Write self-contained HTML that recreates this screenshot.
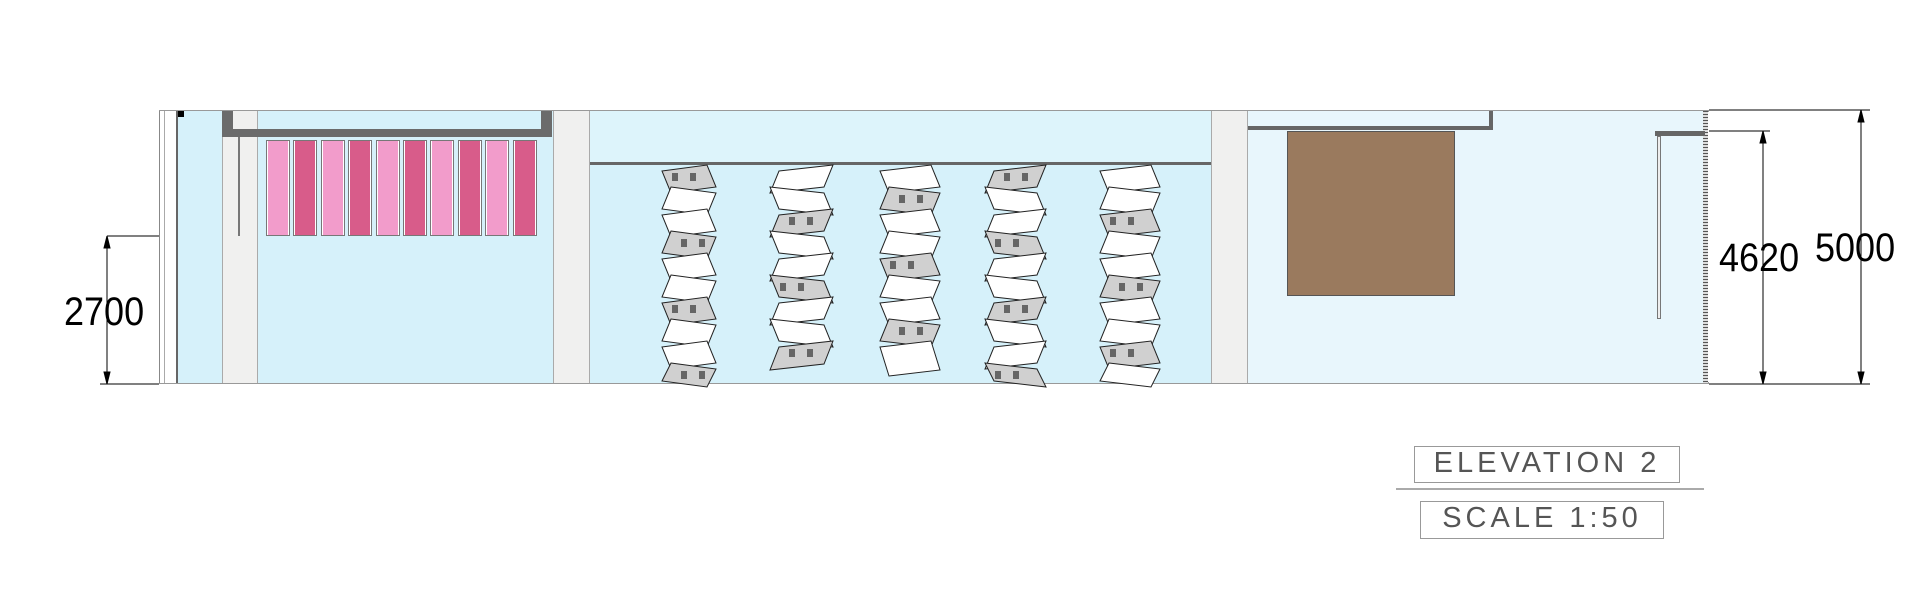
<!DOCTYPE html>
<html><head><meta charset="utf-8"><style>
html,body{margin:0;padding:0;background:#fff}
body{width:1920px;height:591px;overflow:hidden;position:relative;font-family:"Liberation Sans",sans-serif}
.a{position:absolute;box-sizing:border-box}
.pil{background:#f0f0ef;border-left:1px solid #aaa;border-right:1px solid #aaa}
.num{position:absolute;font-size:40px;color:#000;transform:scaleX(0.9);transform-origin:left top;line-height:1}
.t{position:absolute;border:1px solid #999;color:#555;font-size:29px;letter-spacing:4px;line-height:1;text-align:center;white-space:nowrap;overflow:hidden}
</style></head><body>
<div class="a" style="left:159px;top:110px;width:1550px;height:274px;border-top:2px solid #999;border-bottom:2px solid #999"></div>
<div class="a" style="left:159px;top:111px;width:19px;height:272px;border-left:1px solid #888;border-right:2px solid #666;background:#fff"></div>
<div class="a" style="left:164px;top:111px;width:1px;height:272px;background:#aaa"></div>
<div class="a" style="left:178px;top:111px;width:44px;height:272px;background:#d6f1fa"></div>
<div class="a" style="left:178px;top:111px;width:6px;height:6px;background:#000"></div>
<div class="a pil" style="left:222px;top:111px;width:36px;height:272px"></div>
<div class="a" style="left:258px;top:111px;width:295px;height:272px;background:#d6f1fa"></div>
<div class="a pil" style="left:553px;top:111px;width:37px;height:272px"></div>
<div class="a" style="left:590px;top:111px;width:621px;height:272px;background:#d6f1fa"></div>
<div class="a" style="left:590px;top:111px;width:621px;height:54px;background:#ddf4fb;border-bottom:3px solid #666"></div>
<div class="a pil" style="left:1211px;top:111px;width:37px;height:272px"></div>
<div class="a" style="left:1248px;top:111px;width:457px;height:272px;background:#e8f6fc"></div>
<div class="a" style="left:1703px;top:111px;width:5px;height:272px;background:repeating-linear-gradient(#555 0 1px,#ddd 1px 3px)"></div>
<div class="a" style="left:222px;top:111px;width:11px;height:26px;background:#6b6b6b"></div>
<div class="a" style="left:541px;top:111px;width:11px;height:26px;background:#6b6b6b"></div>
<div class="a" style="left:222px;top:129px;width:330px;height:8px;background:#6b6b6b"></div>
<div class="a" style="left:238px;top:137px;width:2px;height:99px;background:#fff;border:1px solid #777"></div>
<div id="pink"></div>
<div class="a" style="left:1248px;top:111px;width:245px;height:19px;background:#e8f6fc;border-right:4px solid #666;border-bottom:4px solid #666"></div>
<div class="a" style="left:1287px;top:131px;width:168px;height:165px;background:#9a7a5e;border:1px solid #555"></div>
<div class="a" style="left:1655px;top:131px;width:50px;height:5px;background:#666"></div>
<div class="a" style="left:1657px;top:136px;width:4px;height:183px;background:#eee;border:1px solid #777"></div>
<svg class="a" style="left:0;top:0" width="1920" height="591">
<g stroke="#000" stroke-width="1" fill="#000">
<line x1="107" y1="236" x2="159" y2="236"/><line x1="100" y1="384" x2="159" y2="384"/>
<line x1="107" y1="236" x2="107" y2="384"/>
<polygon points="107,236 104,248 110,248"/><polygon points="107,384 104,372 110,372"/>
<line x1="1709" y1="131" x2="1770" y2="131"/><line x1="1709" y1="384" x2="1870" y2="384"/><line x1="1709" y1="110" x2="1870" y2="110"/>
<line x1="1763" y1="131" x2="1763" y2="384"/>
<polygon points="1763,131 1760,143 1766,143"/><polygon points="1763,384 1760,372 1766,372"/>
<line x1="1861" y1="110" x2="1861" y2="384"/>
<polygon points="1861,110 1858,122 1864,122"/><polygon points="1861,384 1858,372 1864,372"/>
<line x1="1396" y1="489" x2="1704" y2="489" stroke="#555"/>
</g>
<g id="cols"></g>
</svg>
<div class="num" style="left:64px;top:292px">2700</div>
<div class="num" style="left:1719px;top:238px">4620</div>
<div class="num" style="left:1815px;top:228px">5000</div>
<div class="t" style="left:1414px;top:446px;width:264px;height:33px;padding-top:2px">ELEVATION 2</div>
<div class="t" style="left:1420px;top:501px;width:242px;height:34px;padding-top:2px">SCALE 1:50</div>
<script>
var p=document.getElementById('pink'),h='';
for(var i=0;i<10;i++){var x=266+i*27.4;h+='<div class="a" style="left:'+x+'px;top:140px;width:24px;height:96px;border:1px solid #777;background:#fff"></div><div class="a" style="left:'+(x+2)+'px;top:141px;width:20px;height:94px;background:'+(i%2?'#d85c8a':'#f29ccb')+'"></div>';}
p.innerHTML=h;
var cols=[[662,716,384,0],[770,833,367,1],[880,940,373,0],[985,1046,384,1],[1100,1160,384,0]];
var s='';
cols.forEach(function(c,ci){var L=c[0],R=c[1],b=c[2],y=168,ys=[];
 while(y<b-10){ys.push(y);y+=22;} ys.push(b);
 for(var j=0;j<ys.length-1;j++){var o1=((j+c[3])%2)*9,o2=((j+1+c[3])%2)*9;
  var y1=ys[j],y2=ys[j+1],sk=(j%2?3:-3);
  var fill=((j+ci)%3==0)?'#d0d0d0':'#fff';
  s+='<polygon points="'+(L+o1)+','+(y1-sk)+' '+(R-9+o1)+','+(y1+sk)+' '+(R-9+o2)+','+(y2+sk)+' '+(L+o2)+','+(y2-sk)+'" fill="'+fill+'" stroke="#222" stroke-width="1"/>';
  if(fill!='#fff'){s+='<rect x="'+(L+o1+10)+'" y="'+(y1+5)+'" width="6" height="8" fill="#666"/><rect x="'+(L+o1+28)+'" y="'+(y1+5)+'" width="6" height="8" fill="#666"/>';}
 }});
document.getElementById('cols').innerHTML=s;
</script>
</body></html>
